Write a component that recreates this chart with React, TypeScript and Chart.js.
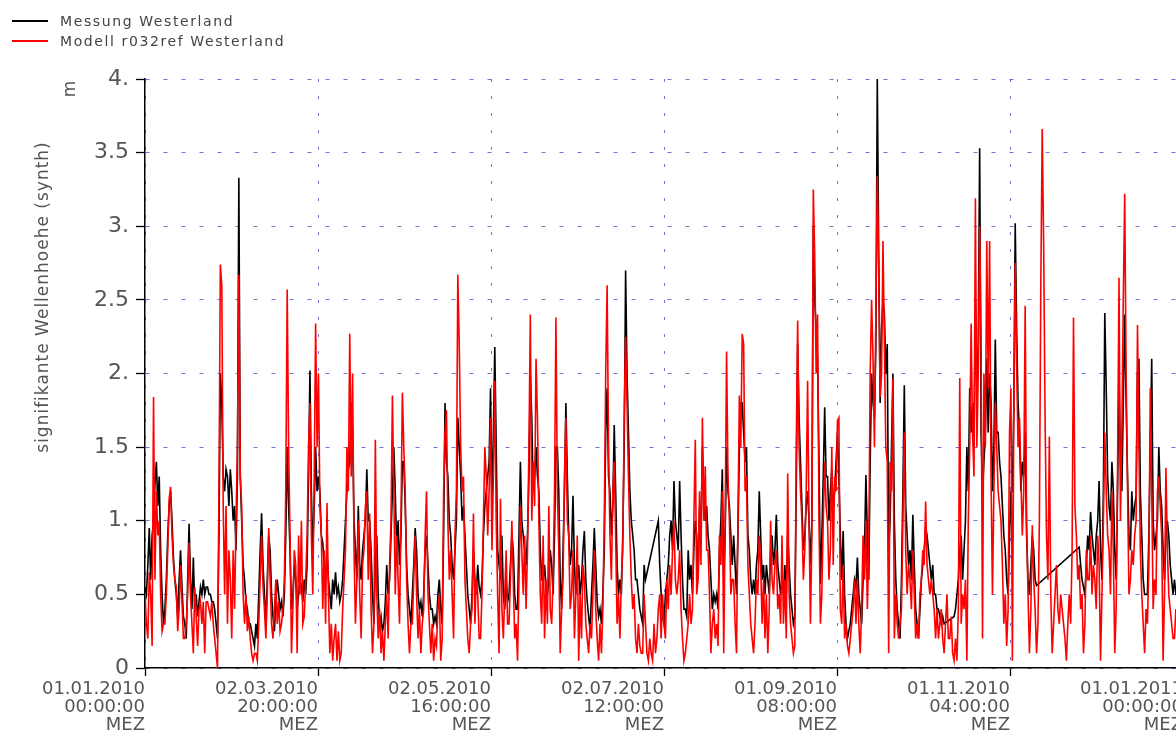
import React, { useEffect, useRef } from 'react';
import { Chart, registerables } from 'chart.js';

Chart.register(...registerables);

// sampling step of the series (hours)
const STEP_HOURS = 12;

// Messung Westerland (significant wave height, m), 12-hourly, in two-month blocks
const measJanFeb = [
  0.55,0.5, 0.7,0.95, 0.6,0.9, 1.0,1.25, 1.4,1.1, 1.3,0.8, 0.5,0.3, 0.4,0.6, 0.9,1.1, 1.2,1.0,
  0.75,0.6, 0.5,0.35, 0.6,0.8, 0.55,0.35, 0.3,0.2, 0.6,0.98, 0.6,0.4, 0.75,0.4, 0.5,0.35, 0.45,0.55,
  0.5,0.6, 0.5,0.55, 0.55,0.5, 0.5,0.45, 0.45,0.4, 0.3,0.2, 0.9,2.0, 1.8,1.3, 1.2,1.35, 1.3,1.1,
  1.35,1.2, 1.0,1.1, 0.8,1.3, 3.33,1.3, 1.0,0.7, 0.6,0.45, 0.4,0.3, 0.3,0.25, 0.2,0.15, 0.3,0.2,
  0.5,0.8, 1.05,0.7, 0.5,0.3, 0.6,0.9, 0.8,0.5, 0.35,0.25, 0.45,0.6, 0.5,0.4, 0.45,0.35, 0.5,0.9,
  1.5,1.1, 0.8,0.4, 0.5,0.7, 0.6,0.4, 0.5,0.6, 0.55,0.45, 0.6,0.5, 0.7,1.3, 2.02,1.2, 0.8,1.1,
  1.5,1.2,
];
const measMarApr = [
  1.3,1.2, 0.9,0.85, 0.7,0.6, 0.8,0.6, 0.5,0.4, 0.6,0.5, 0.65,0.5, 0.55,0.45, 0.5,0.6, 0.8,1.0,
  1.2,1.35, 1.4,1.8, 1.6,1.0, 0.8,0.6, 1.1,0.7, 0.6,0.8, 0.9,1.0, 1.35,1.0, 1.0,0.8, 0.5,0.3,
  0.7,0.9, 0.5,0.3, 0.35,0.25, 0.3,0.45, 0.7,0.5, 0.6,0.9, 1.2,1.5, 1.2,0.8, 1.0,0.7, 0.9,1.4,
  1.4,1.1, 0.7,0.5, 0.4,0.3, 0.5,0.7, 0.95,0.8, 0.5,0.4, 0.45,0.35, 0.5,0.8, 0.9,0.7, 0.5,0.4,
  0.4,0.3, 0.35,0.3, 0.5,0.6, 0.4,0.3, 0.9,1.8, 1.4,1.3, 1.0,0.9, 0.7,0.6, 0.8,1.0, 1.7,1.5,
  1.3,1.0, 1.1,0.9, 0.7,0.5, 0.4,0.3, 0.5,0.8, 0.6,0.5, 0.7,0.55, 0.5,0.6, 0.9,1.1, 1.2,1.3,
  1.4,1.9,
];
const measMayJun = [
  1.1,1.6, 2.18,1.5, 0.8,0.7, 0.6,0.9, 0.5,0.4, 0.6,0.45, 0.5,0.7, 0.9,0.8, 0.5,0.4, 0.4,0.9,
  1.4,1.0, 0.9,0.8, 0.7,0.9, 1.3,2.0, 1.7,1.2, 1.3,1.5, 1.3,1.2, 0.8,0.6, 0.6,0.7, 0.55,0.5,
  0.6,0.8, 0.7,0.5, 0.9,1.5, 1.5,1.2, 0.6,0.4, 0.8,1.2, 1.8,1.3, 0.9,0.7, 0.8,1.17, 0.7,0.5,
  0.6,0.7, 0.5,0.6, 0.8,0.93, 0.6,0.45, 0.35,0.26, 0.5,0.7, 0.95,0.7, 0.45,0.35, 0.4,0.3, 0.5,0.8,
  1.6,1.9, 1.3,1.2, 0.9,1.1, 1.65,1.2, 0.7,0.5, 0.6,0.5, 0.9,1.5, 2.7,2.0, 1.6,1.2, 1.0,0.9,
  0.8,0.6, 0.6,0.5, 0.4,0.35, 0.3,0.7, 0.6,null, null,null, null,null, null,null, null,1.0, 0.7,0.5,
  0.35,0.3,
];
const measJulAug = [
  0.5,0.6, 0.7,0.9, 1.0,0.8, 1.27,1.0, 0.9,0.8, 1.27,0.9, 0.6,0.4, 0.4,0.35, 0.8,0.6, 0.7,0.5,
  0.8,1.0, 0.9,0.6, 1.1,0.9, 1.5,1.2, 1.0,1.1, 0.9,0.8, 0.6,0.4, 0.5,0.45, 0.5,0.4, 0.8,1.0,
  1.35,0.6, 0.9,1.5, 1.2,1.1, 0.9,0.7, 0.9,0.7, 0.5,0.9, 1.5,1.8, 1.8,1.6, 1.4,1.5, 0.9,0.8,
  0.6,0.5, 0.6,0.5, 0.7,0.8, 1.2,0.9, 0.6,0.7, 0.5,0.7, 0.6,0.5, 0.8,0.9, 0.7,0.8, 1.04,0.7,
  0.6,0.5, 0.6,0.5, 0.7,0.5, 0.9,0.7, 0.5,0.4, 0.3,0.35, 1.2,2.2, 1.7,1.4, 1.1,0.8, 0.9,1.1,
  1.2,1.0, 0.7,1.0, 3.0,2.5, 2.3,2.1, 1.4,0.57, 0.9,1.3, 1.77,1.3, 1.3,1.0, 1.2,1.35, 1.1,1.2,
  1.4,1.6,
];
const measSepOct = [
  1.3,0.9, 0.6,0.93, 0.5,0.3, 0.2,0.25, 0.3,0.4, 0.5,0.6, 0.55,0.75, 0.5,0.4, 0.3,0.6, 0.8,1.31,
  0.9,0.6, 1.4,2.0, 1.8,1.7, 2.2,4.0, 2.8,1.8, 2.3,2.5, 2.4,2.0, 2.2,0.8, 1.0,1.5, 2.0,1.0,
  0.6,0.4, 0.3,0.2, 0.6,1.2, 1.92,1.1, 0.9,0.7, 0.8,0.6, 1.04,0.7, 0.4,0.3, 0.2,0.4, 0.6,0.7,
  0.8,0.95, 0.9,0.8, 0.7,0.6, 0.7,0.5, 0.5,0.4, 0.4,0.35, 0.3,0.35, 0.3,null, null,null, null,null,
  null,0.35, 0.4,0.5, 0.6,0.8, 0.9,0.6, 0.8,1.0, 1.5,1.2, 1.9,1.6, 1.8,1.5, 2.5,1.9, 2.2,3.53,
  1.6,1.2, 1.4,1.6, 2.1,1.6, 2.0,1.8, 1.2,1.5, 2.23,1.6, 1.6,1.4, 1.3,1.1, 0.9,0.8, 0.6,0.5,
  0.9,1.2,
];
const measNovDec = [
  1.2,1.76, 3.02,2.3, 1.8,1.6, 1.2,1.4, 1.3,1.6, 0.9,0.6, 0.5,0.7, 0.9,0.8, 0.6,0.56, null,null,
  null,null, null,null, null,null, null,null, null,null, null,null, null,null, null,null, null,null, null,null,
  null,null, null,null, null,null, null,0.82, 0.7,0.6, 0.55,0.5, 0.7,0.9, 0.8,1.06, 0.9,0.8, 0.7,0.9,
  1.0,1.27, 0.8,0.6, 1.2,2.41, 1.9,1.3, 1.1,1.0, 1.4,1.2, 0.8,0.6, 1.2,2.0, 1.4,1.2, 1.8,2.4,
  1.8,1.3, 0.9,0.8, 1.2,1.0, 1.1,1.17, 2.0,2.1, 1.2,0.9, 0.6,0.5, 0.5,0.5, 0.9,1.5, 2.1,1.0,
  0.8,0.9, 1.0,1.5, 1.2,1.1, 0.8,0.6, 0.9,1.0, 0.9,0.7, 0.6,0.5, 0.6,0.5, 0.5,0.6, 0.6,0.5,
];

// Modell r032ref Westerland, 12-hourly, same blocks
const modelJanFeb = [
  0.5,0.3, 0.2,0.65, 0.5,0.15, 1.84,0.6, 1.2,0.9, 1.0,0.5, 0.25,0.3, 0.3,0.5, 0.8,1.15, 1.23,0.9,
  0.7,0.6, 0.55,0.25, 0.4,0.7, 0.45,0.2, 0.2,0.3, 0.5,0.85, 0.5,0.3, 0.1,0.55, 0.35,0.15, 0.4,0.45,
  0.3,0.45, 0.1,0.45, 0.45,0.4, 0.35,0.45, 0.3,0.2, 0.1,0.0, 1.2,2.74, 2.6,1.1, 0.5,1.1, 0.3,0.8,
  0.6,0.2, 0.8,0.4, 1.0,1.5, 2.67,1.3, 1.1,0.5, 0.3,0.5, 0.25,0.35, 0.2,0.1, 0.05,0.1, 0.1,0.05,
  0.3,0.6, 0.9,0.55, 0.4,0.2, 0.5,0.95, 0.6,0.3, 0.2,0.4, 0.6,0.3, 0.45,0.25, 0.3,0.4, 0.6,1.2,
  2.57,1.5, 0.9,0.1, 0.4,0.8, 0.7,0.1, 0.9,0.5, 1.0,0.3, 0.35,0.6, 0.9,1.5, 1.8,0.9, 0.5,1.3,
  2.34,1.5,
];
const modelMarApr = [
  2.0,1.1, 0.9,0.4, 0.8,0.3, 1.12,0.5, 0.1,0.3, 0.05,0.2, 0.3,0.05, 0.25,0.05, 0.1,0.4, 0.6,0.8,
  1.5,1.2, 2.27,1.3, 2.0,0.8, 0.3,0.6, 1.0,0.5, 0.2,0.7, 0.8,1.1, 1.2,0.6, 1.05,0.4, 0.1,0.3,
  1.55,0.5, 0.2,0.4, 0.1,0.25, 0.05,0.3, 0.5,0.2, 0.7,1.0, 1.85,1.2, 0.5,0.9, 0.6,0.3, 1.0,1.87,
  1.5,1.2, 0.6,0.3, 0.1,0.3, 0.3,0.6, 0.9,0.5, 0.2,0.4, 0.1,0.3, 0.4,0.9, 1.2,0.5, 0.3,0.1,
  0.3,0.05, 0.2,0.15, 0.4,0.5, 0.05,0.2, 1.2,1.6, 1.75,1.0, 0.6,0.8, 0.5,0.2, 0.9,1.2, 2.67,2.2,
  1.5,1.2, 1.3,0.6, 0.4,0.2, 0.1,0.3, 0.4,1.05, 0.3,0.6, 0.5,0.2, 0.2,0.5, 1.0,1.5, 1.3,0.9,
  1.2,1.7,
];
const modelMayJun = [
  0.8,1.3, 1.95,1.0, 0.5,0.1, 1.15,0.4, 0.2,0.5, 0.8,0.3, 0.3,0.6, 1.0,0.6, 0.2,0.3, 0.05,0.6,
  1.1,0.8, 0.5,0.9, 0.4,0.8, 1.5,2.4, 1.0,1.4, 1.1,2.1, 1.7,1.0, 0.5,0.3, 0.9,0.2, 0.6,0.3,
  1.1,0.4, 0.3,0.6, 1.2,2.38, 1.2,0.8, 0.1,0.4, 0.6,1.3, 1.7,1.0, 0.9,0.4, 0.5,0.8, 0.2,0.5,
  0.9,0.05, 0.5,0.2, 0.7,0.6, 0.3,0.2, 0.1,0.3, 0.2,0.5, 0.8,0.4, 0.2,0.05, 0.3,0.1, 0.4,1.0,
  2.0,2.6, 1.5,0.9, 0.6,1.2, 1.4,0.9, 0.3,0.5, 0.2,0.6, 0.8,1.7, 2.25,1.8, 1.3,0.9, 0.6,0.4,
  0.5,0.2, 0.1,0.3, 0.15,0.1, 0.1,0.5, 0.3,0.1, 0.05,0.2, 0.1,0.05, 0.3,0.1, 0.2,0.4, 0.5,0.2,
  0.5,0.3,
];
const modelJulAug = [
  0.2,0.6, 0.4,0.7, 0.5,0.8, 1.0,0.6, 0.5,0.6, 0.8,0.4, 0.2,0.05, 0.1,0.2, 0.3,0.5, 0.3,0.4,
  1.0,1.55, 0.5,0.6, 1.2,0.7, 1.7,1.0, 1.37,0.8, 0.8,0.5, 0.1,0.3, 0.4,0.2, 0.3,0.15, 0.9,0.7,
  1.2,0.1, 1.0,2.15, 1.3,1.0, 0.5,0.6, 0.6,0.3, 0.1,1.0, 1.85,1.5, 2.27,2.2, 1.2,1.3, 0.7,0.5,
  0.3,0.2, 0.1,0.3, 0.6,0.5, 0.9,0.7, 0.3,0.6, 0.2,0.5, 0.1,0.4, 1.0,0.6, 0.5,0.7, 0.8,0.4,
  0.5,0.3, 0.9,0.3, 0.6,0.2, 1.32,0.5, 0.3,0.2, 0.1,0.15, 1.5,2.36, 1.5,1.2, 1.0,0.6, 0.8,1.2,
  1.95,1.0, 0.3,0.9, 3.25,2.8, 2.0,2.4, 1.0,0.3, 0.5,1.0, 1.4,1.1, 1.0,0.6, 0.8,1.5, 0.7,1.3,
  1.2,1.68,
];
const modelSepOct = [
  1.7,0.4, 0.3,0.7, 0.2,0.3, 0.15,0.1, 0.2,0.3, 0.4,0.6, 0.3,0.6, 0.3,0.1, 0.4,0.9, 0.6,1.0,
  0.4,0.8, 2.0,2.5, 2.1,1.5, 2.4,3.34, 2.7,1.84, 2.0,2.9, 2.2,1.5, 1.4,0.1, 1.4,1.2, 1.97,0.2,
  0.5,0.3, 0.2,0.3, 0.4,1.0, 1.6,0.8, 0.5,0.7, 0.6,0.4, 0.8,0.5, 0.2,0.3, 0.2,0.5, 0.6,0.8,
  0.7,1.13, 0.7,0.6, 0.5,0.6, 0.5,0.4, 0.2,0.4, 0.2,0.3, 0.4,0.2, 0.1,0.3, 0.5,0.2, 0.2,0.35,
  0.1,0.05, 0.2,0.05, 0.4,1.97, 0.3,0.5, 0.4,0.6, 0.05,1.0, 1.5,2.34, 1.6,1.3, 3.19,1.5, 2.0,3.0,
  2.2,0.2, 2.0,1.5, 2.9,1.9, 2.9,1.3, 0.5,1.2, 1.8,1.5, 1.2,1.1, 1.0,0.7, 0.3,0.5, 0.15,0.4,
  1.6,1.9,
];
const modelNovDec = [
  0.05,1.7, 2.75,2.05, 1.5,1.7, 1.3,0.9, 1.2,2.46, 1.0,0.5, 0.1,0.4, 0.97,0.6, 0.4,0.1, 0.3,1.0,
  2.6,3.66, 2.88,1.7, 0.9,0.6, 1.57,0.5, 0.1,0.3, 0.5,0.7, 0.4,0.3, 0.5,0.4, 0.3,0.2, 0.05,0.3,
  0.5,0.3, 0.8,2.38, 1.1,0.9, 0.6,0.7, 0.4,0.5, 0.1,0.3, 0.8,0.6, 0.6,0.9, 0.5,0.7, 0.6,0.4,
  0.9,0.7, 0.05,0.5, 1.0,1.6, 1.2,0.9, 0.8,0.5, 1.2,0.8, 0.1,0.4, 1.4,2.65, 1.0,1.6, 2.5,3.22,
  2.0,1.2, 0.5,0.6, 0.8,0.7, 0.9,1.0, 2.33,1.5, 0.8,0.5, 0.3,0.1, 0.4,0.3, 0.7,1.9, 1.2,0.4,
  0.6,0.5, 1.2,1.3, 1.1,0.9, 0.05,0.5, 1.36,0.8, 0.5,0.4, 0.3,0.2, 0.2,0.4, 0.3,0.5, 0.4,0.3,
];

const measurement = [...measJanFeb, ...measMarApr, ...measMayJun, ...measJulAug, ...measSepOct, ...measNovDec];
const model = [...modelJanFeb, ...modelMarApr, ...modelMayJun, ...modelJulAug, ...modelSepOct, ...modelNovDec];

const seriesNames = ['Messung Westerland', 'Modell r032ref Westerland'];
const seriesColors = ['#000000', '#ff0000'];

// x axis: hours since 01.01.2010 00:00 MEZ
const xMaxHours = 8760;
const xTickHours = [0, 1460, 2920, 4380, 5840, 7300, 8760];
const xTickLabels = [
  ['01.01.2010', '00:00:00', 'MEZ'],
  ['02.03.2010', '20:00:00', 'MEZ'],
  ['02.05.2010', '16:00:00', 'MEZ'],
  ['02.07.2010', '12:00:00', 'MEZ'],
  ['01.09.2010', '08:00:00', 'MEZ'],
  ['01.11.2010', '04:00:00', 'MEZ'],
  ['01.01.2011', '00:00:00', 'MEZ'],
];
const yTickValues = [0, 0.5, 1, 1.5, 2, 2.5, 3, 3.5, 4];
const yTickLabels = ['0', '0.5', '1.', '1.5', '2.', '2.5', '3.', '3.5', '4.'];
const yTitle = 'signifikante Wellenhoehe (synth)';
const yUnit = 'm';

const GRID_COLOR = 'rgba(80,80,210,0.8)';
const TEXT_COLOR = '#555555';

const axisTextPlugin = {
  id: 'axisText',
  afterDraw(chart: any) {
    const ctx = chart.ctx as CanvasRenderingContext2D;
    const { left, top } = chart.chartArea;
    ctx.save();
    ctx.fillStyle = TEXT_COLOR;
    ctx.font = '17px "DejaVu Sans"';
    (ctx as any).letterSpacing = '1px';
    ctx.textAlign = 'center';
    ctx.textBaseline = 'middle';
    ctx.translate(left - 101, top + 218);
    ctx.rotate(-Math.PI / 2);
    ctx.fillText(yTitle, 0, 0);
    ctx.restore();

    ctx.save();
    ctx.fillStyle = TEXT_COLOR;
    ctx.font = '17px "DejaVu Sans"';
    ctx.textAlign = 'center';
    ctx.textBaseline = 'middle';
    ctx.translate(left - 74, top + 10);
    ctx.rotate(-Math.PI / 2);
    ctx.fillText(yUnit, 0, 0);
    ctx.restore();
  },
};

export default function App() {
  const canvasRef = useRef<HTMLCanvasElement | null>(null);

  useEffect(() => {
    document.body.style.margin = '0';
    const canvas = canvasRef.current;
    if (!canvas) return;
    const toPoints = (arr: (number | null)[]) => arr.map((v, i) => ({ x: i * STEP_HOURS, y: v }));
    const chart = new Chart(canvas, {
      type: 'line',
      data: {
        datasets: [
          {
            label: seriesNames[0],
            data: toPoints(measurement) as any,
            borderColor: seriesColors[0],
            borderWidth: 1.6,
            pointRadius: 0,
            spanGaps: true,
            tension: 0,
            order: 2,
          },
          {
            label: seriesNames[1],
            data: toPoints(model) as any,
            borderColor: seriesColors[1],
            borderWidth: 1.6,
            pointRadius: 0,
            tension: 0,
            order: 1,
          },
        ],
      },
      options: {
        animation: false,
        responsive: false,
        events: [],
        layout: { padding: { top: 79, left: 0, right: 17, bottom: 0 } },
        plugins: { legend: { display: false }, tooltip: { enabled: false } },
        scales: {
          x: {
            type: 'linear',
            min: 0,
            max: xMaxHours,
            afterBuildTicks: (s: any) => {
              s.ticks = xTickHours.map((v) => ({ value: v }));
            },
            afterFit: (s: any) => {
              s.height = 68;
            },
            ticks: {
              autoSkip: false,
              maxRotation: 0,
              minRotation: 0,
              align: 'end',
              color: TEXT_COLOR,
              padding: 4,
              font: { family: 'DejaVu Sans', size: 18, lineHeight: '18px' },
              callback: (_v: any, i: number) => xTickLabels[i],
            },
            grid: { color: GRID_COLOR, lineWidth: 1, tickColor: '#000', tickLength: 8, tickWidth: 1.3 },
            border: { color: '#000', width: 1.5, dash: [3, 14] },
          },
          y: {
            min: 0,
            max: 4,
            afterBuildTicks: (s: any) => {
              s.ticks = yTickValues.map((v) => ({ value: v }));
            },
            afterFit: (s: any) => {
              s.width = 145;
            },
            ticks: {
              color: TEXT_COLOR,
              padding: 7,
              font: { family: 'DejaVu Sans', size: 22 },
              callback: (_v: any, i: number) => yTickLabels[i],
            },
            grid: { color: GRID_COLOR, lineWidth: 1, tickColor: '#000', tickLength: 9, tickWidth: 1.3 },
            border: { color: '#000', width: 1.5, dash: [4, 14] },
          },
        },
      },
      plugins: [axisTextPlugin],
    } as any);
    return () => chart.destroy();
  }, []);

  const legendRow = (i: number, top: number) => (
    <div
      key={i}
      style={{
        position: 'absolute',
        left: 12,
        top,
        height: 20,
        display: 'flex',
        alignItems: 'center',
        font: '14px "DejaVu Sans"',
        letterSpacing: '1.6px',
        color: '#444',
        whiteSpace: 'nowrap',
      }}
    >
      <span style={{ display: 'inline-block', width: 36, height: 0, borderTop: `2px solid ${seriesColors[i]}`, marginRight: 12 }} />
      <span>{seriesNames[i]}</span>
    </div>
  );

  return (
    <div style={{ position: 'fixed', left: 0, top: 0, width: 1176, height: 736, overflow: 'hidden', background: '#fff' }}>
      <canvas ref={canvasRef} width={1200} height={736} style={{ position: 'absolute', left: 0, top: 0 }} />
      {legendRow(0, 11)}
      {legendRow(1, 31)}
    </div>
  );
}
